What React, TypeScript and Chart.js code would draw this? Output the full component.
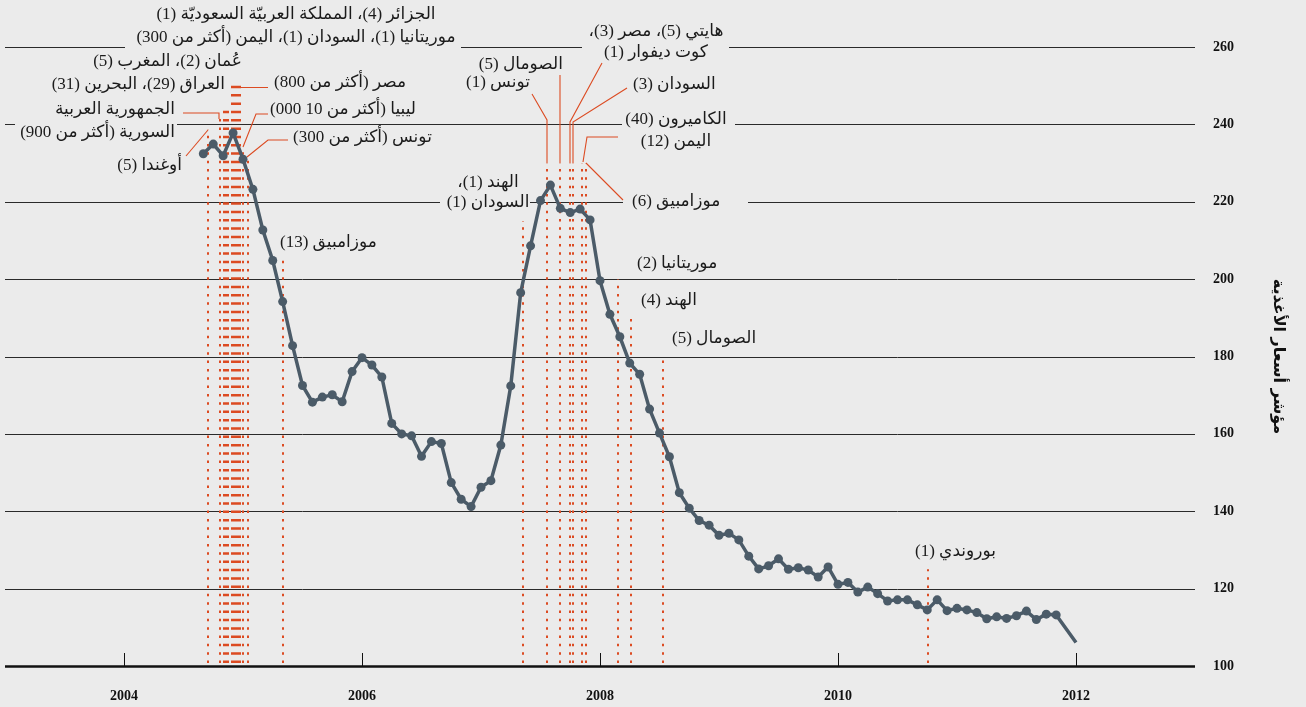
import React, { useEffect, useRef } from "react";
import { Chart, registerables } from "chart.js";

Chart.register(...registerables);

// ---------- DATA ----------
// Monthly food price index; first value is for Sept 2004 (as drawn on the axis)
const FIRST_YEAR = 2004;
const FIRST_MONTH = 9;
const FOOD_INDEX: (number | null)[] = [
  232.4, 234.9, 231.9, 237.8, 231.0, 223.2, 212.7, 204.8, 194.2, 182.8,
  172.5, 168.2, 169.5, 170.1, 168.3, 176.1, 179.7, 177.8, 174.7, 162.7,
  160.0, 159.5, 154.2, 158.0, 157.5, 147.4, 143.1, 141.2, 146.2, 147.9,
  157.1, 172.4, 196.5, 208.6, 220.3, 224.3, 218.3, 217.2, 218.1, 215.3,
  199.6, 190.9, 185.1, 178.3, 175.4, 166.4, 160.2, 154.1, 144.8, 140.8,
  137.6, 136.4, 133.8, 134.3, 132.6, 128.4, 125.1, 125.9, 127.7, 125.0,
  125.4, 124.8, 123.0, 125.6, 121.1, 121.6, 119.1, 120.4, 118.7, 116.8,
  117.1, 117.1, 115.8, 114.5, 117.1, 114.3, 114.9, 114.5, 113.8, 112.2,
  112.7, 112.3, 113.0, 114.2, 112.0, 113.4, 113.2, null, 106.1,
];

const X_TICKS = [2004, 2006, 2008, 2010, 2012];
const Y_TICKS = [100, 120, 140, 160, 180, 200, 220, 240, 260];
const Y_TITLE = "مؤشر أسعار الأغذية";

// Unrest events: date (decimal year) and height of the dotted marker (index value)
const EVENT_YEARS = [
  2004.704, 2004.807, 2004.841, 2004.858, 2004.874, 2004.908, 2004.925,
  2004.942, 2004.959, 2004.976, 2005.001, 2005.039, 2005.34,
  2007.35, 2007.555, 2007.663, 2007.751, 2007.776, 2007.852, 2007.881,
  2008.152, 2008.264, 2008.527, 2010.756,
];
const EVENT_TOPS = [
  238.6, 241.5, 245, 245, 245, 250.2, 250.2,
  250.2, 250.2, 250.2, 234.2, 231.6, 205,
  215, 230, 230, 230, 230, 230, 230,
  200, 190.3, 180, 125,
];

// ---------- LAYOUT / STYLE ----------
const W = 1306;
const H = 707;
const BG = "#ebebeb";
const GRID = "#2a2a2a";
const LINE = "#4b5b68";
const RED = "#dc4b22";
const TEXT = "#1b1b1b";
const LABEL_FONT = '17px "Liberation Serif", "DejaVu Sans", serif';

type Label = { lines: string[]; x: number; y: number; align: CanvasTextAlign; lh?: number };
const LABELS: Label[] = [
  { lines: ["الجزائر (4)، المملكة العربيّة السعوديّة (1)", "موريتانيا (1)، السودان (1)، اليمن (أكثر من 300)"], x: 296, y: 15, align: "center", lh: 23 },
  { lines: ["عُمان (2)، المغرب (5)"], x: 242, y: 62, align: "right" },
  { lines: ["العراق (29)، البحرين (31)"], x: 225, y: 85, align: "right" },
  { lines: ["مصر (أكثر من 800)"], x: 274, y: 83, align: "left" },
  { lines: ["ليبيا (أكثر من 10 000)"], x: 270, y: 110, align: "left" },
  { lines: ["تونس (أكثر من 300)"], x: 293, y: 138, align: "left" },
  { lines: ["الجمهورية العربية", "السورية (أكثر من 900)"], x: 175, y: 110, align: "right", lh: 23 },
  { lines: ["أوغندا (5)"], x: 182, y: 166, align: "right" },
  { lines: ["موزامبيق (13)"], x: 280, y: 243, align: "left" },
  { lines: ["الهند (1)،", "السودان (1)"], x: 488, y: 183, align: "center", lh: 20 },
  { lines: ["الصومال (5)"], x: 563, y: 65, align: "right" },
  { lines: ["تونس (1)"], x: 530, y: 83, align: "right" },
  { lines: ["هايتي (5)، مصر (3)،", "كوت ديفوار (1)"], x: 656, y: 32, align: "center", lh: 21 },
  { lines: ["السودان (3)"], x: 633, y: 85, align: "left" },
  { lines: ["الكاميرون (40)", "اليمن (12)"], x: 676, y: 120, align: "center", lh: 22 },
  { lines: ["موزامبيق (6)"], x: 632, y: 202, align: "left" },
  { lines: ["موريتانيا (2)"], x: 637, y: 264, align: "left" },
  { lines: ["الهند (4)"], x: 641, y: 301, align: "left" },
  { lines: ["الصومال (5)"], x: 672, y: 339, align: "left" },
  { lines: ["بوروندي (1)"], x: 915, y: 552, align: "left" },
];

const LEADERS: number[][][] = [
  [[186, 156], [208, 130]],
  [[183, 113], [219, 113], [219, 119]],
  [[268, 87.5], [234, 87.5]],
  [[268, 114], [256, 114], [243, 147]],
  [[288, 140], [268, 140], [247, 157]],
  [[532, 94], [547, 120], [547, 163]],
  [[560, 75], [560, 163]],
  [[602, 63], [570, 122], [570, 163]],
  [[627, 88], [573, 122], [573, 163]],
  [[618, 137], [587, 137], [583, 162]],
  [[623, 200], [586, 163]],
];

// pixel gaps in gridlines where labels sit
const GRID_GAPS: Record<number, number[][]> = {
  260: [[125, 461], [582, 729]],
  240: [[15, 177], [622, 735]],
  220: [[440, 530], [623, 748]],
};

const decorPlugin = {
  id: "decor",
  beforeDraw(chart: any) {
    const { ctx, width, height } = chart;
    ctx.save();
    ctx.fillStyle = BG;
    ctx.fillRect(0, 0, width, height);
    ctx.restore();
  },
  beforeDatasetsDraw(chart: any) {
    const { ctx, chartArea: ca, scales } = chart;
    const xs = scales.x;
    const ys = scales.y;
    ctx.save();
    // gridlines with gaps
    ctx.strokeStyle = GRID;
    ctx.lineWidth = 1;
    for (const v of Y_TICKS) {
      if (v === 100) continue;
      const py = Math.round(ys.getPixelForValue(v)) + 0.5;
      const gaps = (GRID_GAPS[v] || []).slice().sort((a, b) => a[0] - b[0]);
      let start = ca.left;
      const segs: number[][] = [];
      for (const g of gaps) {
        segs.push([start, g[0]]);
        start = g[1];
      }
      segs.push([start, ca.right]);
      ctx.beginPath();
      for (const s of segs) {
        ctx.moveTo(s[0], py);
        ctx.lineTo(s[1], py);
      }
      ctx.stroke();
    }
    // baseline axis
    const by = ys.getPixelForValue(100);
    ctx.strokeStyle = "#111";
    ctx.lineWidth = 2.5;
    ctx.beginPath();
    ctx.moveTo(ca.left, by + 0.5);
    ctx.lineTo(ca.right, by + 0.5);
    ctx.stroke();
    // x tick marks (upward)
    ctx.lineWidth = 1;
    ctx.beginPath();
    for (const t of X_TICKS) {
      const px = Math.round(xs.getPixelForValue(t)) + 0.5;
      ctx.moveTo(px, by - 13);
      ctx.lineTo(px, by);
    }
    ctx.stroke();
    // dotted event lines
    ctx.strokeStyle = RED;
    ctx.lineWidth = 2;
    ctx.setLineDash([2.5, 5.83]);
    for (let i = 0; i < EVENT_YEARS.length; i++) {
      const px = Math.round(xs.getPixelForValue(EVENT_YEARS[i]));
      const top = ys.getPixelForValue(EVENT_TOPS[i]);
      ctx.beginPath();
      ctx.moveTo(px, by - 3);
      ctx.lineTo(px, top);
      ctx.stroke();
    }
    ctx.setLineDash([]);
    // leader lines
    ctx.strokeStyle = RED;
    ctx.lineWidth = 1.1;
    for (const l of LEADERS) {
      ctx.beginPath();
      l.forEach((p, i) => (i === 0 ? ctx.moveTo(p[0], p[1]) : ctx.lineTo(p[0], p[1])));
      ctx.stroke();
    }
    ctx.restore();
  },
  afterDatasetsDraw(chart: any) {
    const { ctx } = chart;
    ctx.save();
    ctx.fillStyle = TEXT;
    ctx.font = LABEL_FONT;
    (ctx as any).direction = "rtl";
    ctx.textBaseline = "middle";
    for (const lab of LABELS) {
      ctx.textAlign = lab.align;
      lab.lines.forEach((s, i) => ctx.fillText(s, lab.x, lab.y + i * (lab.lh || 22)));
    }
    ctx.restore();
  },
};

export default function App() {
  const ref = useRef<HTMLCanvasElement | null>(null);
  useEffect(() => {
    if (!ref.current) return;
    document.body.style.margin = "0";
    document.body.style.background = BG;
    const points = FOOD_INDEX.map((v, i) => ({
      x: FIRST_YEAR + (FIRST_MONTH - 1 + i) / 12,
      y: v,
    }));
    const radii = FOOD_INDEX.map((_, i) => (i === FOOD_INDEX.length - 1 ? 0 : 4.5));
    const tickFont = { family: '"Liberation Serif", serif', size: 14, weight: "bold" as const };
    const chart = new Chart(ref.current, {
      type: "line",
      data: {
        datasets: [
          {
            data: points as any,
            borderColor: LINE,
            backgroundColor: LINE,
            borderWidth: 3.5,
            pointRadius: radii,
            pointHoverRadius: radii,
            pointBackgroundColor: LINE,
            pointBorderWidth: 0,
            spanGaps: true,
            tension: 0,
          },
        ],
      },
      options: {
        animation: false,
        responsive: false,
        events: [],
        layout: { padding: { top: 47, left: 5, right: 0, bottom: 0 } },
        plugins: { legend: { display: false }, tooltip: { enabled: false } },
        scales: {
          x: {
            type: "linear",
            min: 2003,
            max: 2013,
            position: "bottom",
            grid: { display: false },
            border: { display: false },
            afterBuildTicks: (s: any) => {
              s.ticks = X_TICKS.map((v) => ({ value: v }));
            },
            afterFit: (s: any) => {
              s.height = 41;
            },
            ticks: {
              callback: (v: any) => String(v),
              font: tickFont,
              color: "#111",
              padding: 14,
              maxRotation: 0,
              autoSkip: false,
            },
          },
          y: {
            position: "right",
            min: 100,
            max: 260,
            grid: { display: false },
            border: { display: false },
            afterBuildTicks: (s: any) => {
              s.ticks = Y_TICKS.map((v) => ({ value: v }));
            },
            afterFit: (s: any) => {
              s.width = 111;
            },
            ticks: { font: tickFont, color: "#111", padding: 10 },
            title: {
              display: true,
              text: Y_TITLE,
              font: { family: '"DejaVu Sans", sans-serif', size: 16, weight: "bold" },
              color: "#111",
              padding: { top: 18, bottom: 0 },
            },
          },
        },
      } as any,
      plugins: [decorPlugin],
    });
    return () => chart.destroy();
  }, []);
  return (
    <div style={{ position: "fixed", left: 0, top: 0, width: W, height: H, background: BG }}>
      <canvas ref={ref} width={W} height={H} style={{ display: "block" }} />
    </div>
  );
}
